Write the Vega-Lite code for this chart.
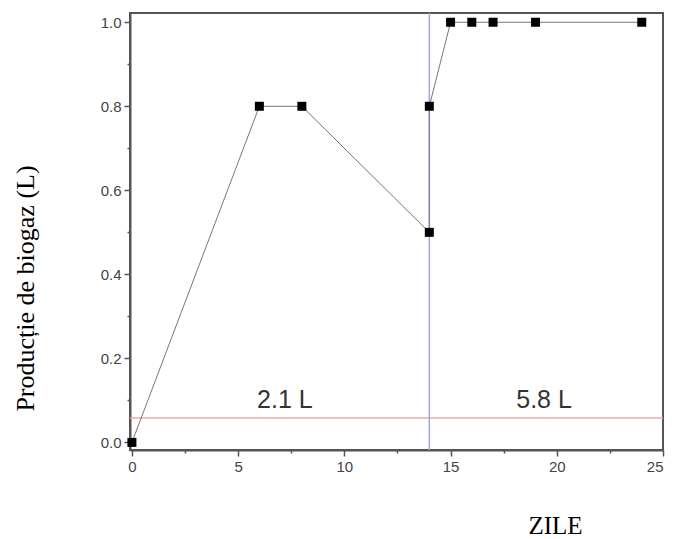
{
  "$schema": "https://vega.github.io/schema/vega-lite/v6.json",
  "width": 533,
  "height": 437,
  "autosize": {"type": "none"},
  "padding": {"left": 130, "top": 13, "right": 11, "bottom": 89},
  "background": "white",
  "config": {
    "view": {"stroke": "#555", "strokeWidth": 2},
    "axis": {
      "grid": false,
      "domainColor": "#555",
      "domainWidth": 2,
      "tickColor": "#555",
      "tickWidth": 1.5,
      "labelColor": "#444",
      "labelFont": "Liberation Sans",
      "labelFontSize": 15,
      "titleFont": "Liberation Serif",
      "titleFontSize": 26,
      "titleFontWeight": "normal",
      "titleColor": "#000"
    }
  },
  "resolve": {"axis": {"x": "independent", "y": "independent"}},
  "layer": [
    {
      "data": {"values": [{"v": 0.058}]},
      "mark": {"type": "rule", "color": "#f0a8a8", "strokeWidth": 1.5},
      "encoding": {
        "y": {
          "field": "v", "type": "quantitative",
          "scale": {"domain": [-0.018, 1.022], "nice": false, "zero": false},
          "axis": {"orient": "left", "values": [0.1, 0.3, 0.5, 0.7, 0.9], "labels": false, "domain": false, "tickSize": 3, "title": null}
        }
      }
    },
    {
      "data": {"values": [{"d": 14}]},
      "mark": {"type": "rule", "color": "#a4a4e4", "strokeWidth": 1.5},
      "encoding": {
        "x": {
          "field": "d", "type": "quantitative",
          "scale": {"domain": [-0.09, 25], "nice": false, "zero": false},
          "axis": {"orient": "bottom", "values": [2.5, 7.5, 12.5, 17.5, 22.5], "labels": false, "domain": false, "tickSize": 3, "title": null}
        }
      }
    },
    {
      "data": {"values": [
        {"i": 1, "zi": 0, "p": 0.0},
        {"i": 2, "zi": 6, "p": 0.8},
        {"i": 3, "zi": 8, "p": 0.8},
        {"i": 4, "zi": 14, "p": 0.5},
        {"i": 5, "zi": 14, "p": 0.8},
        {"i": 6, "zi": 15, "p": 1.0},
        {"i": 7, "zi": 16, "p": 1.0},
        {"i": 8, "zi": 17, "p": 1.0},
        {"i": 9, "zi": 19, "p": 1.0},
        {"i": 10, "zi": 24, "p": 1.0}
      ]},
      "encoding": {
        "x": {
          "field": "zi", "type": "quantitative",
          "scale": {"domain": [-0.09, 25], "nice": false, "zero": false},
          "axis": {"orient": "bottom", "values": [0, 5, 10, 15, 20, 25], "tickSize": 6, "labelPadding": 3, "title": "ZILE", "titleX": 425, "titleY": 83, "titleFontSize": 25, "titleBaseline": "alphabetic", "titleAnchor": null, "titleAlign": "center"}
        },
        "y": {
          "field": "p", "type": "quantitative",
          "scale": {"domain": [-0.018, 1.022], "nice": false, "zero": false},
          "axis": {"orient": "left", "values": [0, 0.2, 0.4, 0.6, 0.8, 1.0], "format": ".1f", "tickSize": 6, "labelPadding": 3, "title": "Producție de biogaz (L)", "titleX": -97, "titleY": 275, "titleBaseline": "alphabetic", "titleAngle": -90, "titleAlign": "center", "titleAnchor": null}
        },
        "order": {"field": "i", "type": "quantitative"}
      },
      "layer": [
        {"mark": {"type": "line", "color": "#777", "strokeWidth": 1}},
        {"mark": {"type": "square", "color": "#000", "opacity": 1, "filled": true, "size": 81}}
      ]
    },
    {
      "data": {"values": [
        {"tx": 7.2, "ty": 0.102, "t": "2.1 L"},
        {"tx": 19.4, "ty": 0.102, "t": "5.8 L"}
      ]},
      "mark": {"type": "text", "font": "Liberation Sans", "fontSize": 25, "color": "#333", "baseline": "middle", "align": "center"},
      "encoding": {
        "x": {"field": "tx", "type": "quantitative", "scale": {"domain": [-0.09, 25], "nice": false, "zero": false}, "axis": null},
        "y": {"field": "ty", "type": "quantitative", "scale": {"domain": [-0.018, 1.022], "nice": false, "zero": false}, "axis": null},
        "text": {"field": "t"}
      }
    }
  ]
}
